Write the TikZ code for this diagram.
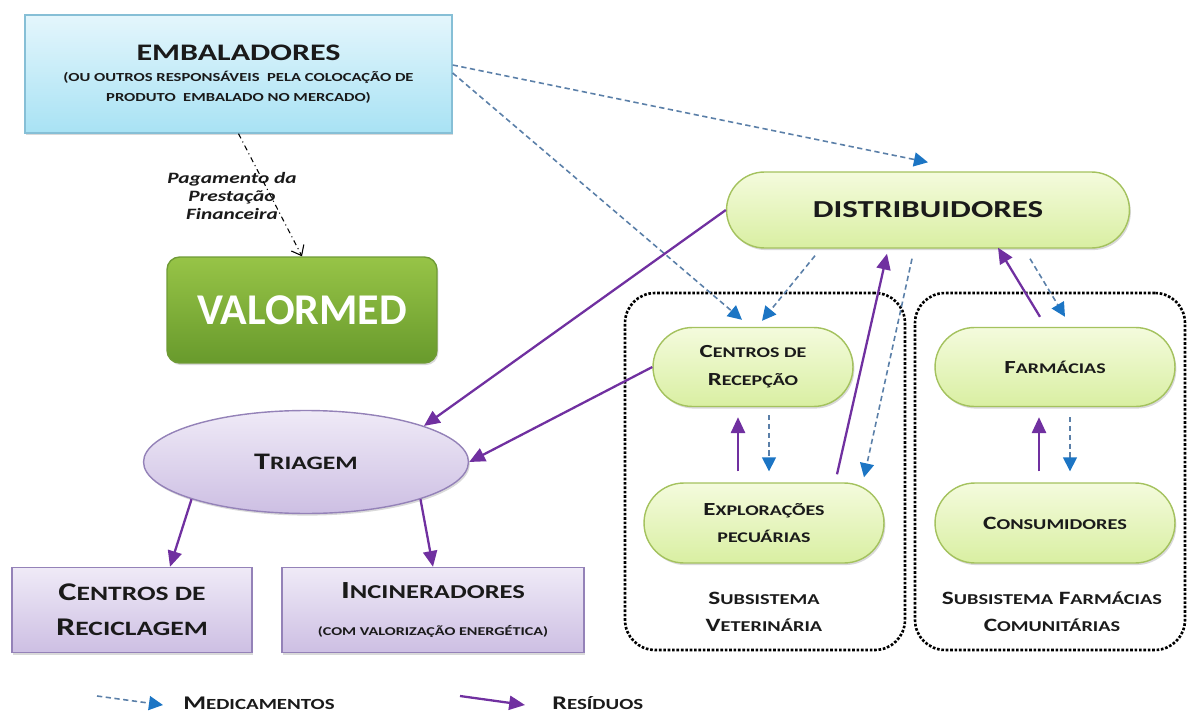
\documentclass[tikz,border=0pt]{standalone}
\usepackage{fontspec}
\setmainfont{Carlito}[FakeStretch=1.35]
\newfontfamily\plainfont{Carlito}
\usetikzlibrary{calc,shadows}
\usetikzlibrary{shapes.misc,shapes.geometric}
\usetikzlibrary{arrows, positioning}
\usetikzlibrary{arrows.meta}

\definecolor{resid}{HTML}{7030A0}
\definecolor{medline}{HTML}{5A7FA8}
\definecolor{medtip}{HTML}{1C75C4}
\definecolor{textdark}{HTML}{1A1A1A}
\definecolor{embtop}{HTML}{E4F6FC}
\definecolor{embbot}{HTML}{A8E2F4}
\definecolor{embline}{HTML}{86BFD6}
\definecolor{valtop}{HTML}{97C447}
\definecolor{valbot}{HTML}{689A2C}
\definecolor{valline}{HTML}{6F9B35}
\definecolor{pilltop}{HTML}{F4FBDD}
\definecolor{pillbot}{HTML}{D9EFA2}
\definecolor{pillline}{HTML}{A4C25E}
\definecolor{lilactop}{HTML}{EFEAF7}
\definecolor{lilacbot}{HTML}{CDBFE3}
\definecolor{lilacline}{HTML}{9482B8}

% letras em versalete (minusculas)
\makeatletter
\newcommand{\lc}[1]{{\fontsize{\strip@pt\dimexpr0.8\dimexpr\f@size pt\relax\relax}{0pt}\selectfont #1}}
\makeatother

\tikzset{
  shade/.style={drop shadow={opacity=0.3,shadow xshift=0.8pt,shadow yshift=-1.2pt}},
  pill/.style={rounded rectangle, draw=pillline, line width=0.8pt, top color=pilltop, bottom color=pillbot,
    shade, align=center, text=textdark, inner sep=0pt, minimum height=1.58cm},
  lilac/.style={draw=lilacline, line width=0.8pt, top color=lilactop, bottom color=lilacbot,
    shade, align=center, text=textdark, inner sep=0pt},
  subsys/.style={draw=black, line width=1.5pt, dash pattern=on 1.5pt off 1pt, rounded corners=0.6cm, inner sep=0pt},
  med/.style={draw=medline, line width=0.9pt, dash pattern=on 3pt off 2pt, -{Triangle[length=8pt,width=8pt,fill=medtip,color=medtip]}},
  res/.style={draw=resid, line width=1.3pt, -{Triangle[length=9pt,width=8pt]}},
  pay/.style={draw=black, line width=0.6pt, dash dot, -{Straight Barb[length=5pt,width=8pt]}},
  label/.style={align=center, text=textdark, inner sep=0pt}
}

\begin{document}
\begin{tikzpicture}[x=0.02cm,y=-0.02cm]
  \useasboundingbox (0,0) rectangle (1187,713);

  % subsistemas
  \node[subsys, minimum width=5.6cm, minimum height=7.14cm] (vetbox) at (765,471.5) {};
  \node[subsys, minimum width=5.4cm, minimum height=7.14cm] (farbox) at (1050,471.5) {};

  % nodos
  \node[draw=embline, line width=0.8pt, top color=embtop, bottom color=embbot, shade,
        minimum width=8.54cm, minimum height=2.36cm, align=center, text=textdark,
        font=\bfseries\fontsize{7}{11.3}\selectfont] (emb) at (238.5,74)
        {{\fontsize{13.5}{16}\selectfont EMBALADORES}\\[1pt]
         (OU OUTROS RESPONSÁVEIS\ \ PELA COLOCAÇÃO DE\\
         PRODUTO\ \ EMBALADO NO MERCADO)};
  \node[draw=valline, line width=0.8pt, top color=valtop, bottom color=valbot, shade,
        rounded corners=0.25cm, minimum width=5.4cm, minimum height=2.12cm, text=white,
        font=\plainfont\bfseries\fontsize{25}{28}\selectfont] (valormed) at (302,310) {VALORMED};
  \node[pill, minimum width=8.06cm, minimum height=1.52cm,
        font=\bfseries\fontsize{13.9}{16}\selectfont] (dist) at (928,210) {DISTRIBUIDORES};
  \node[pill, minimum width=4cm, font=\bfseries\fontsize{10.5}{16}\selectfont] (cdr) at (753,367)
        {C\lc{ENTROS DE}\\R\lc{ECEPÇÃO}};
  \node[pill, minimum width=4.8cm, minimum height=1.6cm, font=\bfseries\fontsize{10.5}{15.3}\selectfont] (expl) at (764,523)
        {E\lc{XPLORAÇÕES}\\\lc{PECUÁRIAS}};
  \node[pill, minimum width=4.8cm, font=\bfseries\fontsize{10.5}{16}\selectfont] (farm) at (1055,367)
        {F\lc{ARMÁCIAS}};
  \node[pill, minimum width=4.8cm, minimum height=1.6cm, font=\bfseries\fontsize{10.7}{16}\selectfont] (cons) at (1055,523)
        {C\lc{ONSUMIDORES}};
  \node[lilac, ellipse, minimum width=6.5cm, minimum height=2.06cm,
        font=\bfseries\fontsize{13.5}{16}\selectfont] (tri) at (306,462) {T\lc{RIAGEM}};
  \node[lilac, minimum width=4.8cm, minimum height=1.7cm,
        font=\bfseries\fontsize{14.5}{20}\selectfont] (recic) at (132,610)
        {C\lc{ENTROS DE}\\R\lc{ECICLAGEM}};
  \node[lilac, minimum width=6.04cm, minimum height=1.7cm,
        font=\bfseries\fontsize{14}{21.5}\selectfont] (incin) at (433,610)
        {I\lc{NCINERADORES}\\{\fontsize{6.8}{8}\selectfont (COM VALORIZAÇÃO ENERGÉTICA)}};

  % textos
  \node[label, font=\bfseries\fontsize{10.7}{15.3}\selectfont] (vettxt) at (764,612)
        {S\lc{UBSISTEMA}\\V\lc{ETERINÁRIA}};
  \node[label, font=\bfseries\fontsize{10.7}{15.3}\selectfont] (fartxt) at (1052,612)
        {S\lc{UBSISTEMA} F\lc{ARMÁCIAS}\\C\lc{OMUNITÁRIAS}};
  \node[label, font=\bfseries\itshape\fontsize{9}{10.2}\selectfont] (paytxt) at (232,196)
        {Pagamento da\\Prestação\\Financeira};

  % medicamentos
  \draw[med] ($(emb.east)+(0,-9)$) -- ($(dist.north)+(0,-9)$);
  \draw[med] ($(emb.east)+(0,-1)$) -- ($(cdr.north)+(-11,-7)$);
  \draw[med] ($(dist.south)+(-113,7)$) -- ($(cdr.north)+(9,-6)$);
  \draw[med] ($(dist.south)+(-16,10)$) -- ($(expl.north)+(100,-5)$);
  \draw[med] ($(dist.south)+(102,10)$) -- ($(farm.north)+(10,-10)$);
  \draw[med] ($(cdr.south)+(16,8)$) -- ($(expl.north)+(5,-11)$);
  \draw[med] ($(farm.south)+(15,10)$) -- ($(cons.north)+(15,-11)$);

  % residuos
  \draw[res] ($(expl.north)+(73,-8)$) -- ($(dist.south)+(-41,5)$);
  \draw[res] ($(farm.north)+(-15,-10)$) -- ($(dist.south)+(70,-1)$);
  \draw[res] ($(expl.north)+(-26,-11)$) -- ($(cdr.south)+(-15,10)$);
  \draw[res] ($(cons.north)+(-16,-11)$) -- ($(farm.south)+(-16,10)$);
  \draw[res] (dist.west) -- (tri.17);
  \draw[res] (cdr.west) -- (tri.east);
  \draw[res] (tri.-162) -- ($(recic.north)+(38,0)$);
  \draw[res] (tri.-18) -- (incin.north);

  % pagamento
  \draw[pay] (emb.south) -- (valormed.north);

  % legenda
  \coordinate (medstart) at (97,696);
  \coordinate (resstart) at (460,696);
  \node[label, anchor=west, font=\bfseries\fontsize{11}{13}\selectfont] (medtxt) at (183,703) {M\lc{EDICAMENTOS}};
  \node[label, anchor=west, font=\bfseries\fontsize{11}{13}\selectfont] (restxt) at (552,703) {R\lc{ESÍDUOS}};
  \draw[med] (medstart) -- ($(medtxt.west)+(-20,2)$);
  \draw[res] (resstart) -- ($(restxt.west)+(-27,2)$);
\end{tikzpicture}
\end{document}
